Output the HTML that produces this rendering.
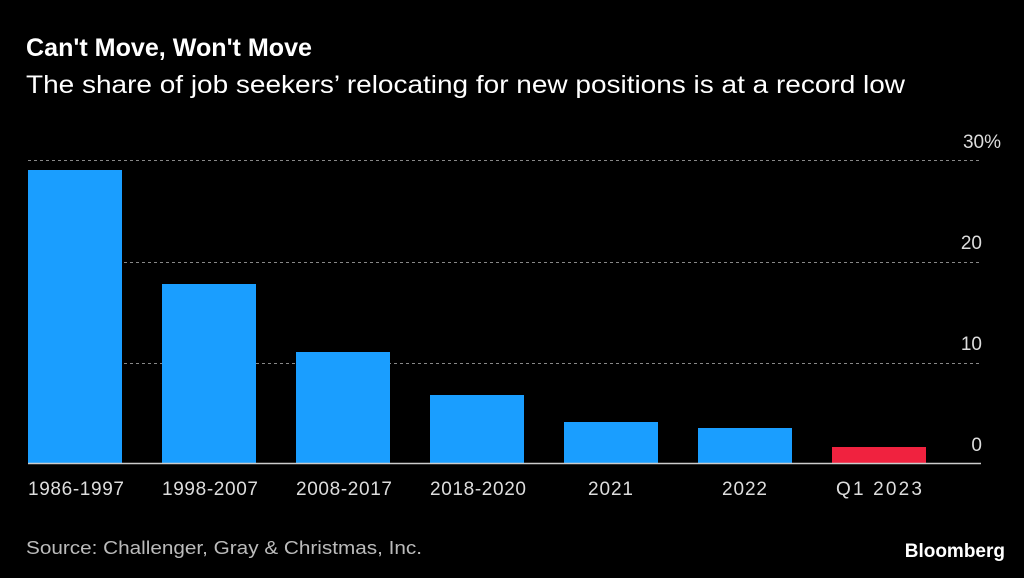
<!DOCTYPE html>
<html><head><meta charset="utf-8"><style>
body{margin:0;background:#000;width:1024px;height:578px;overflow:hidden;font-family:"Liberation Sans",sans-serif;color:#fff}
</style></head><body>
<svg width="1024" height="578" xmlns="http://www.w3.org/2000/svg" style="position:absolute;left:0;top:0">
<text x="26" y="56" font-size="25" font-weight="bold" fill="#fff" font-family="Liberation Sans" textLength="286" lengthAdjust="spacingAndGlyphs">Can't Move, Won't Move</text>
<text x="26" y="93" font-size="25" fill="#fff" font-family="Liberation Sans" textLength="879" lengthAdjust="spacingAndGlyphs">The share of job seekers’ relocating for new positions is at a record low</text>
<g stroke="#888" stroke-width="1" stroke-dasharray="3,3">
<line x1="28" y1="160.5" x2="980" y2="160.5"/>
<line x1="28" y1="262.5" x2="980" y2="262.5"/>
<line x1="28" y1="363.5" x2="980" y2="363.5"/>
</g>
<g fill="#1a9eff">
<rect x="28" y="170" width="94" height="294"/>
<rect x="162" y="284" width="94" height="180"/>
<rect x="296" y="352" width="94" height="112"/>
<rect x="430" y="395" width="94" height="69"/>
<rect x="564" y="422" width="94" height="42"/>
<rect x="698" y="428" width="94" height="36"/>
</g>
<rect x="832" y="447" width="94" height="17" fill="#f0223f"/>
<line x1="28" y1="463.5" x2="981" y2="463.5" stroke="#ccc" stroke-width="1.5"/>
<g font-size="19" fill="#ddd" text-anchor="end" font-family="Liberation Sans">
<text x="1001" y="148">30%</text>
<text x="982" y="249">20</text>
<text x="982" y="350">10</text>
<text x="982" y="451">0</text>
</g>
<g font-size="19" fill="#ddd" font-family="Liberation Sans" lengthAdjust="spacingAndGlyphs">
<text x="28" y="495" textLength="96">1986-1997</text>
<text x="162" y="495" textLength="96">1998-2007</text>
<text x="296" y="495" textLength="96">2008-2017</text>
<text x="430" y="495" textLength="96">2018-2020</text>
<text x="588" y="495" textLength="45">2021</text>
<text x="722" y="495" textLength="45">2022</text>
<text x="836" y="495" textLength="86">Q1 2023</text>
</g>
<text x="26" y="554" font-size="18" fill="#bbb" font-family="Liberation Sans" textLength="396" lengthAdjust="spacingAndGlyphs">Source: Challenger, Gray &amp; Christmas, Inc.</text>
<text x="1005" y="557" font-size="19" font-weight="bold" fill="#fff" text-anchor="end" font-family="Liberation Sans">Bloomberg</text>
</svg>
</body></html>
